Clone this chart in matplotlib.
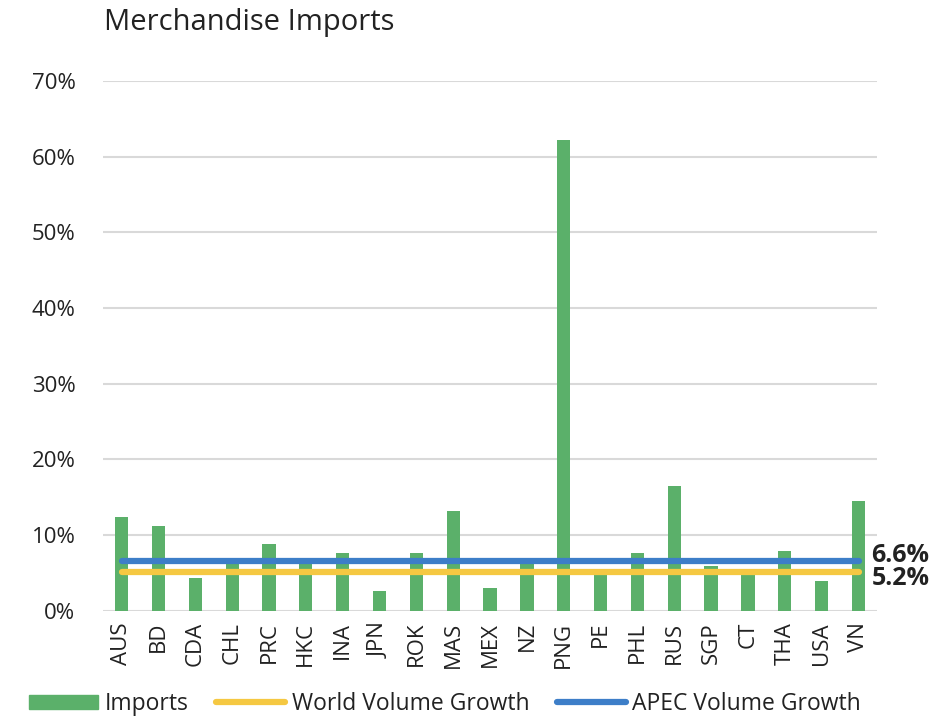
import matplotlib
matplotlib.use("Agg")
import matplotlib.pyplot as plt
from matplotlib.patches import Patch
from matplotlib.lines import Line2D
from matplotlib.ticker import FuncFormatter

plt.rcParams['font.family'] = ['Open Sans', 'DejaVu Sans']

categories = ["AUS", "BD", "CDA", "CHL", "PRC", "HKC", "INA", "JPN", "ROK", "MAS", "MEX",
              "NZ", "PNG", "PE", "PHL", "RUS", "SGP", "CT", "THA", "USA", "VN"]
imports = [12.4, 11.2, 4.3, 6.9, 8.8, 6.8, 7.6, 2.6, 7.6, 13.2, 3.0,
           6.6, 62.2, 4.9, 7.6, 16.5, 5.9, 5.0, 7.9, 3.9, 14.5]
world_growth = 5.2
apec_growth = 6.6
yticks = [0, 10, 20, 30, 40, 50, 60, 70]

green = "#5bb06a"
yellow = "#f5c842"
blue = "#3d7ec8"

fig = plt.figure(figsize=(9.47, 7.17), dpi=100)
ax = fig.add_axes([0.109, 0.148, 0.817, 0.739])

x = list(range(len(categories)))
ax.bar(x, imports, width=0.36, color=green, zorder=2)
ax.plot([x[0], x[-1]], [world_growth] * 2, color=yellow, lw=4.5, solid_capstyle='round', zorder=3)
ax.plot([x[0], x[-1]], [apec_growth] * 2, color=blue, lw=4.5, solid_capstyle='round', zorder=3)

ax.text(x[-1] + 0.35, apec_growth + 0.75, f"{apec_growth:.1f}%", fontsize=18, fontweight='bold',
        color='#222222', va='center', ha='left')
ax.text(x[-1] + 0.35, world_growth - 0.9, f"{world_growth:.1f}%", fontsize=18, fontweight='bold',
        color='#222222', va='center', ha='left')

ax.set_xlim(-0.5, len(categories) - 0.5)
ax.set_ylim(0, 70)
ax.set_yticks(yticks)
ax.yaxis.set_major_formatter(FuncFormatter(lambda v, p: f"{v:.0f}%"))
ax.set_xticks(x)
ax.set_xticklabels(categories, rotation=90)
ax.tick_params(axis='y', length=0, pad=20, labelsize=16, labelcolor='#222222')
ax.tick_params(axis='x', length=0, pad=8, labelsize=16, labelcolor='#222222')
ax.grid(axis='y', color='#d9d9d9', lw=1.5, zorder=0)
for s in ax.spines.values():
    s.set_visible(False)

fig.text(0.110, 0.969, "Merchandise Imports", fontsize=21, color='#222222', va='center', ha='left')

handles = [Patch(color=green, label="Imports"),
           Line2D([0], [0], color=yellow, lw=4.5, solid_capstyle='round', label="World Volume Growth"),
           Line2D([0], [0], color=blue, lw=4.5, solid_capstyle='round', label="APEC Volume Growth")]
fig.legend(handles=handles, loc='center', bbox_to_anchor=(0.47, 0.018), ncol=3, frameon=False,
           fontsize=16.5, handlelength=3.0, handleheight=0.6, handletextpad=0.3, columnspacing=1.2,
           labelcolor='#222222')

fig.savefig("out.png", dpi=100, facecolor='white')
